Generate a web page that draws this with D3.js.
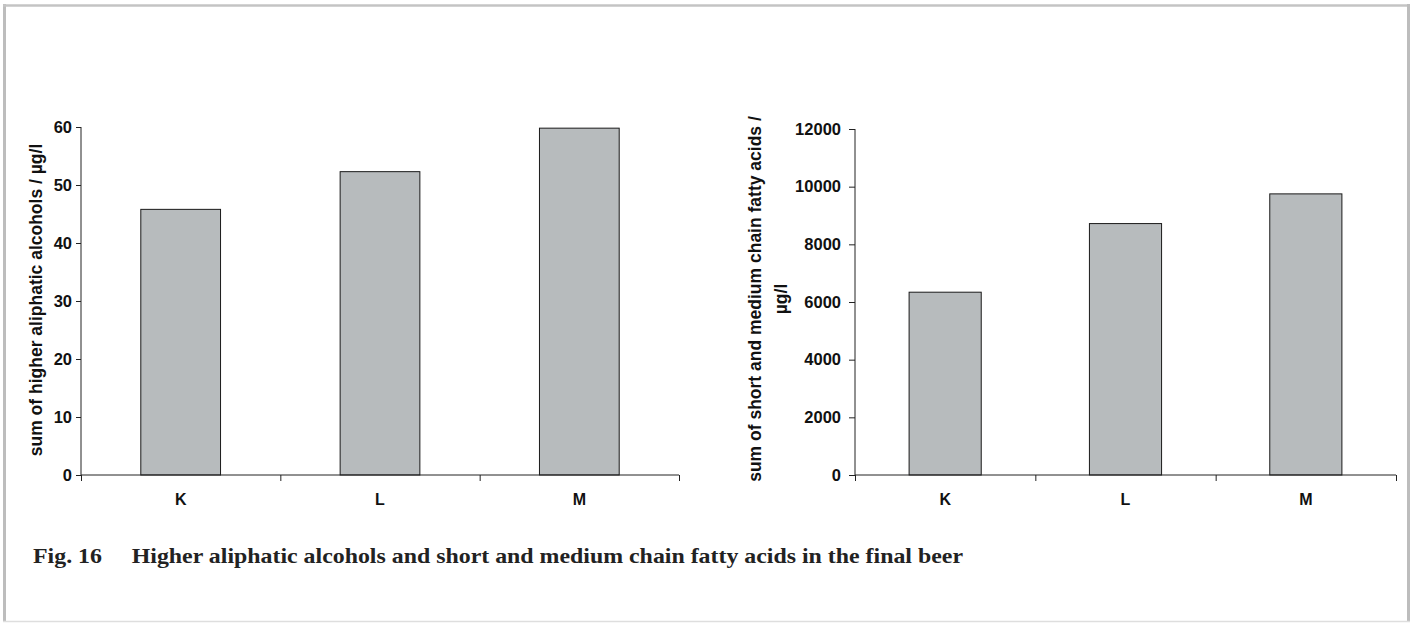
<!DOCTYPE html>
<html>
<head>
<meta charset="utf-8">
<script src="https://cdn.jsdelivr.net/npm/d3@7"></script>
<style>
  html, body { margin: 0; padding: 0; background: #fff; }
  svg { display: block; }
  text { font-family: "Liberation Sans", Arial, sans-serif; font-weight: bold; fill: #111; }
</style>
</head>
<body>
<svg id="chart" width="1414" height="623"></svg>
<script>
// ---- data ----
const categories = ["K", "L", "M"];
const alcoholValues = [45.8, 52.3, 59.8];          // µg/l
const fattyAcidValues = [6340, 8720, 9750];        // µg/l
const alcoholTicks = [0, 10, 20, 30, 40, 50, 60];
const fattyAcidTicks = [0, 2000, 4000, 6000, 8000, 10000, 12000];
const alcoholTitle = ["sum of higher aliphatic alcohols / µg/l"];
const fattyAcidTitle = ["sum of short and medium chain fatty acids /", "µg/l"];
const caption = "Fig. 16     Higher aliphatic alcohols and short and medium chain fatty acids in the final beer";

const svg = d3.select("#chart");

// frame
svg.append("line").attr("x1", 4.5).attr("x2", 4.5).attr("y1", 4).attr("y2", 622).attr("stroke", "#bdbdbd").attr("stroke-width", 3);
svg.append("line").attr("x1", 3).attr("x2", 1410).attr("y1", 5.5).attr("y2", 5.5).attr("stroke", "#c4c4c4").attr("stroke-width", 2.5);
svg.append("line").attr("x1", 1408.5).attr("x2", 1408.5).attr("y1", 4).attr("y2", 622).attr("stroke", "#bdbdbd").attr("stroke-width", 3);
svg.append("line").attr("x1", 3).attr("x2", 1410).attr("y1", 621.5).attr("y2", 621.5).attr("stroke", "#dedede").attr("stroke-width", 1.5);

function drawPanel(opts) {
  const { x0, x1, yTop, yBottom, values, ticks, maxVal, title, titleX, titleY, tickSize, tickPad } = opts;
  const g = svg.append("g");
  const y = d3.scaleLinear().domain([0, maxVal]).range([yBottom, yTop]);
  const xb = d3.scaleBand().domain(categories).range([x0, x1]).paddingInner(0.6).paddingOuter(0.3);
  const xl = d3.scaleLinear().domain([0, categories.length]).range([x0, x1]);

  // bars
  g.selectAll("rect.bar").data(values).join("rect")
    .attr("class", "bar")
    .attr("x", (d, i) => xb(categories[i]))
    .attr("width", xb.bandwidth())
    .attr("y", d => y(d))
    .attr("height", d => y(0) - y(d))
    .attr("fill", "#b7bbbd")
    .attr("stroke", "#1a1a1a")
    .attr("stroke-width", 1);

  // y axis
  const ya = g.append("g").attr("transform", `translate(${x0},0)`)
    .call(d3.axisLeft(y).tickValues(ticks).tickSize(tickSize).tickPadding(tickPad).tickFormat(d3.format("d")));
  ya.select(".domain").attr("stroke", "#222").attr("d", `M0,${yTop}V${yBottom}`);
  ya.selectAll(".tick line").attr("stroke", "#222");
  ya.selectAll(".tick text").style("font-size", "16.5px").attr("fill", "#111");

  // x axis boundaries
  const xa = g.append("g").attr("transform", `translate(0,${yBottom})`)
    .call(d3.axisBottom(xl).tickValues(d3.range(categories.length + 1)).tickSize(6).tickFormat(""));
  xa.select(".domain").attr("stroke", "#222").attr("d", `M${x0},0H${x1}`);
  xa.selectAll(".tick line").attr("stroke", "#222");

  // category labels
  const xc = g.append("g").attr("transform", `translate(0,${yBottom})`)
    .call(d3.axisBottom(xb).tickSize(0).tickPadding(19));
  xc.select(".domain").remove();
  xc.selectAll(".tick text").style("font-size", "16px").attr("fill", "#111");

  // title
  const t = g.append("text")
    .attr("transform", `translate(${titleX},${titleY}) rotate(-90)`)
    .attr("text-anchor", "middle")
    .style("font-size", "17.5px");
  title.forEach((line, i) => {
    t.append("tspan").attr("x", 0).attr("dy", i === 0 ? 0 : "1.5em").text(line);
  });
  return g;
}

drawPanel({
  x0: 81, x1: 679, yTop: 127, yBottom: 475,
  values: alcoholValues, ticks: alcoholTicks, maxVal: 60,
  title: alcoholTitle, titleX: 42, titleY: 300, tickSize: 5, tickPad: 4
});

drawPanel({
  x0: 855, x1: 1396, yTop: 129, yBottom: 475,
  values: fattyAcidValues, ticks: fattyAcidTicks, maxVal: 12000,
  title: fattyAcidTitle, titleX: 761, titleY: 299, tickSize: 6, tickPad: 8
});

// caption
svg.append("text")
  .attr("x", 33).attr("y", 563)
  .attr("xml:space", "preserve")
  .style("white-space", "pre")
  .style("font-family", "'Liberation Serif', 'Times New Roman', Times, serif")
  .style("font-size", "21px")
  .style("font-weight", "bold")
  .style("fill", "#222")
  .attr("textLength", 930)
  .attr("lengthAdjust", "spacingAndGlyphs")
  .text(caption);
</script>
</body>
</html>
